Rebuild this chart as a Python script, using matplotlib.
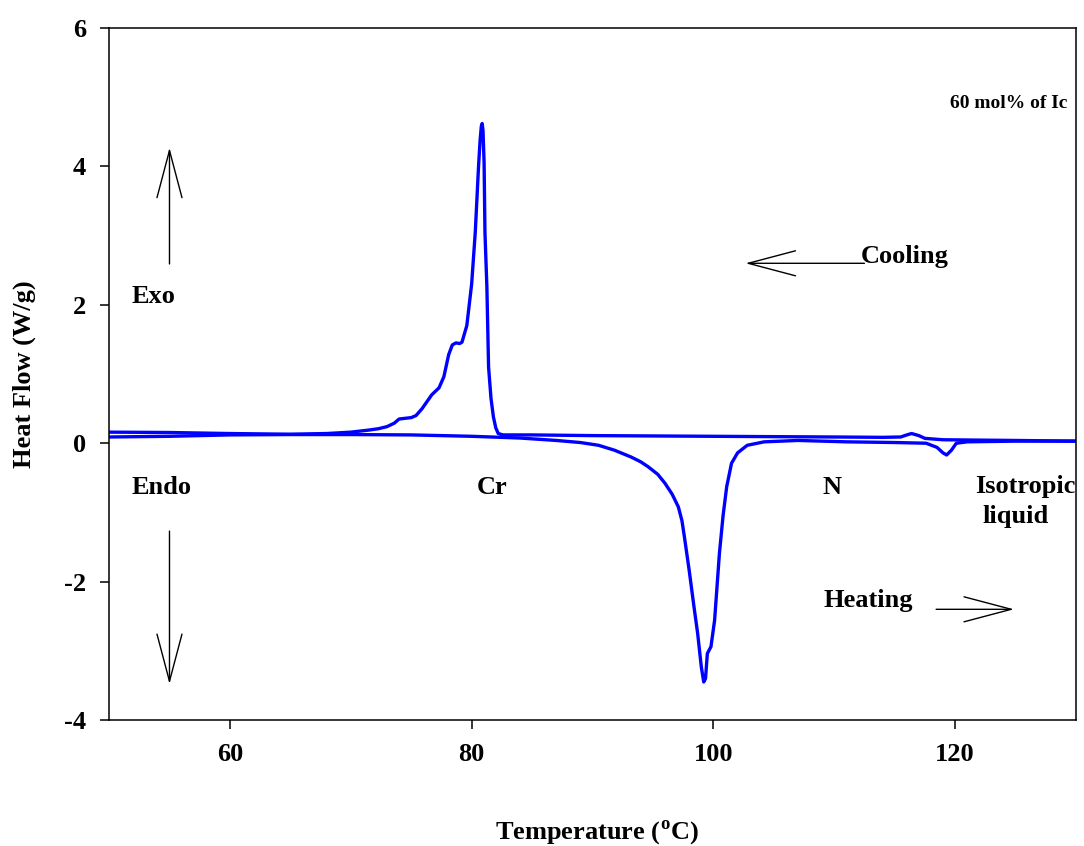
import numpy as np
import matplotlib
matplotlib.use("Agg")
import matplotlib.pyplot as plt

# DSC trace, 60 mol% of Ic
# cooling run (exotherm, upward)
cool_T = [50.0, 55.0, 60.0, 65.0, 68.0, 70.0, 71.5, 72.3, 73.0, 73.6, 74.0, 74.5,
          75.0, 75.4, 75.9, 76.3, 76.7, 77.0, 77.3, 77.7, 78.1, 78.4, 78.7, 79.0,
          79.2, 79.6, 80.0, 80.3, 80.57, 80.7, 80.8, 80.87, 80.94, 81.03, 81.1, 81.26,
          81.4, 81.6, 81.8, 82.0, 82.2, 82.6, 85.0, 90.0, 100.0, 110.0, 114.0,
          115.5, 116.0, 116.4, 117.0, 117.5, 119.0, 125.0, 130.0]
cool_HF = [0.16, 0.155, 0.14, 0.13, 0.14, 0.16, 0.19, 0.21, 0.24, 0.29, 0.35, 0.36,
           0.37, 0.40, 0.50, 0.60, 0.70, 0.75, 0.80, 0.96, 1.28, 1.42, 1.45, 1.44,
           1.46, 1.70, 2.30, 3.05, 4.00, 4.38, 4.58, 4.62, 4.52, 4.05, 3.05, 2.26,
           1.10, 0.65, 0.38, 0.22, 0.14, 0.12, 0.12, 0.11, 0.10, 0.09, 0.085,
           0.09, 0.12, 0.14, 0.11, 0.07, 0.05, 0.04, 0.03]

# heating run (endotherm, downward)
heat_T = [50.0, 55.0, 60.0, 65.0, 70.0, 75.0, 80.0, 84.0, 87.0, 89.0, 90.5, 91.8,
          93.2, 94.0, 94.6, 95.4, 96.0, 96.6, 97.1, 97.4, 97.6, 98.0, 98.4, 98.7,
          99.0, 99.2, 99.35, 99.5, 99.8, 100.1, 100.5, 100.8, 101.1, 101.5, 102.0,
          102.8, 104.2, 107.0, 111.0, 115.0, 117.6, 118.5, 119.0, 119.3, 119.7,
          120.1, 121.0, 125.0, 130.0]
heat_HF = [0.09, 0.10, 0.12, 0.125, 0.125, 0.12, 0.10, 0.075, 0.04, 0.01, -0.03, -0.10,
           -0.20, -0.27, -0.34, -0.45, -0.58, -0.74, -0.92, -1.12, -1.35, -1.84, -2.37,
           -2.75, -3.23, -3.45, -3.40, -3.04, -2.94, -2.56, -1.59, -1.05, -0.63, -0.29,
           -0.14, -0.03, 0.02, 0.04, 0.02, 0.01, 0.0, -0.06, -0.14, -0.17, -0.10,
           0.0, 0.02, 0.03, 0.03]

x_ticks = [60, 80, 100, 120]
y_ticks = [-4, -2, 0, 2, 4, 6]

plt.rcParams['font.family'] = 'Liberation Serif'
plt.rcParams['font.weight'] = 'bold'
plt.rcParams['axes.unicode_minus'] = False
plt.rcParams['mathtext.fontset'] = 'custom'
plt.rcParams['mathtext.rm'] = 'Liberation Serif:bold'
plt.rcParams['mathtext.bf'] = 'Liberation Serif:bold'

fig = plt.figure(figsize=(10.84, 8.46), dpi=100)
ax = fig.add_axes([0.1006, 0.1489, 0.8920, 0.8180])

ax.plot(cool_T, cool_HF, color='#0000ff', lw=2.4)
ax.plot(heat_T, heat_HF, color='#0000ff', lw=2.4)

ax.set_xlim(50, 130)
ax.set_ylim(-4, 6)
ax.set_xticks(x_ticks)
ax.set_yticks(y_ticks)
ax.tick_params(direction='out', length=6.5, width=1.1, labelsize=19, pad=10,
               top=False, right=False)
for s in ax.spines.values():
    s.set_linewidth(1.1)

ax.set_xlabel(r'Temperature ($^{\mathbf{o}}$C)', fontsize=19, fontweight='bold')
ax.set_ylabel('Heat Flow (W/g)', fontsize=19, fontweight='bold')
ax.xaxis.set_label_coords(0.504, -0.142)
ax.yaxis.set_label_coords(-0.0755, 0.5)

fs = 19
ax.text(129.25, 4.84, '60 mol% of Ic', fontsize=14, ha='right', va='baseline')
ax.text(51.88, 2.03, 'Exo', fontsize=fs, va='baseline')
ax.text(51.88, -0.73, 'Endo', fontsize=fs, va='baseline')
ax.text(80.4, -0.73, 'Cr', fontsize=fs, va='baseline')
ax.text(109.0, -0.73, 'N', fontsize=fs, va='baseline')
ax.text(121.63, -0.72, 'Isotropic', fontsize=fs, va='baseline', clip_on=False)
ax.text(122.3, -1.15, 'liquid', fontsize=fs, va='baseline', clip_on=False)
ax.text(112.16, 2.60, 'Cooling', fontsize=fs, va='baseline')
ax.text(109.1, -2.37, 'Heating', fontsize=fs, va='baseline')

arrow = dict(arrowstyle='->,head_length=34,head_width=9', mutation_scale=1,
             lw=1.0, color='black', shrinkA=0, shrinkB=0)
ax.annotate('', xy=(55.0, 4.27), xytext=(55.0, 2.59), arrowprops=arrow)
ax.annotate('', xy=(55.0, -3.48), xytext=(55.0, -1.27), arrowprops=arrow)
ax.annotate('', xy=(102.66, 2.60), xytext=(112.5, 2.60), arrowprops=arrow)
ax.annotate('', xy=(124.87, -2.40), xytext=(118.43, -2.40), arrowprops=arrow)

fig.savefig('out.png', dpi=100)
